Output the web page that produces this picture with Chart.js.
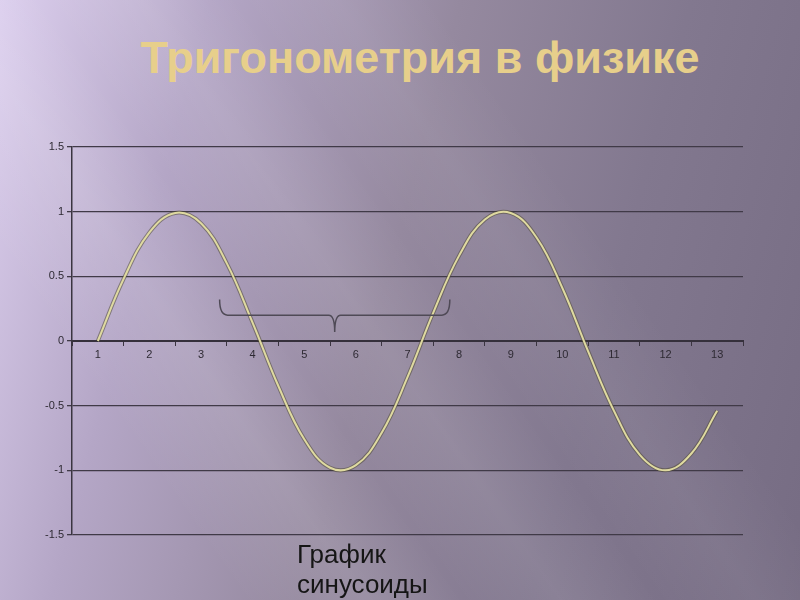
<!DOCTYPE html>
<html>
<head>
<meta charset="utf-8">
<script src="https://cdn.jsdelivr.net/npm/chart.js@4/dist/chart.umd.min.js"></script>
<style>
  html, body { margin: 0; padding: 0; }
  body {
    width: 800px; height: 600px; position: relative; overflow: hidden;
    background:
      linear-gradient(55deg, rgba(255,255,255,0) 20%, rgba(255,255,255,0.10) 30%, rgba(255,255,255,0) 38%, rgba(255,255,255,0.08) 46%, rgba(255,255,255,0) 54%, rgba(255,255,255,0.05) 62%, rgba(255,255,255,0) 70%),
      linear-gradient(105deg, #dccfee 0%, #b4a6c6 22%, #95899f 48%, #82788f 72%, #766c83 100%);
    font-family: "Liberation Sans", Arial, sans-serif;
  }
  #title {
    position: absolute; left: 0; width: 840px; top: 32px; text-align: center;
    font-size: 45px; font-weight: bold; color: #e7cf8b;
  }
  #caption {
    position: absolute; left: 297px; top: 539px; font-size: 26px; line-height: 30px; color: #151515;
  }
  #wrap { position: absolute; left: 0; top: 0; width: 800px; height: 600px; }
</style>
</head>
<body>
<div id="title">Тригонометрия в физике</div>
<div id="wrap"><canvas id="chart"></canvas></div>
<div id="caption">График<br>синусоиды</div>
<script>
// значения
const xValues = [1, 1.5, 2, 2.5, 3, 3.5, 4, 4.5, 5, 5.5, 6, 6.5, 7, 7.5, 8, 8.5, 9, 9.5, 10, 10.5, 11, 11.5, 12, 12.5, 13];
const yValues = [0, 0.48, 0.84, 0.99, 0.91, 0.6, 0.14, -0.35, -0.76, -0.98, -0.96, -0.71, -0.28, 0.22, 0.66, 0.94, 0.99, 0.8, 0.41, -0.08, -0.54, -0.88, -1, -0.87, -0.54];
const yTicks = [-1.5, -1, -0.5, 0, 0.5, 1, 1.5];
const categories = ['1', '2', '3', '4', '5', '6', '7', '8', '9', '10', '11', '12', '13'];

const points = xValues.map((x, i) => ({ x: x, y: yValues[i] }));

// фигурная скобка над осью
const bracePlugin = {
  id: 'brace',
  afterDatasetsDraw(chart) {
    const xs = chart.scales.x, ys = chart.scales.y, ctx = chart.ctx;
    const x1 = xs.getPixelForValue(3.36), x2 = xs.getPixelForValue(7.82), xm = xs.getPixelForValue(5.59);
    const yTop = ys.getPixelForValue(0.32), yMid = ys.getPixelForValue(0.2), yTip = ys.getPixelForValue(0.07);
    ctx.save();
    ctx.strokeStyle = '#4f4a56';
    ctx.lineWidth = 1.5;
    ctx.beginPath();
    ctx.moveTo(x1, yTop);
    ctx.quadraticCurveTo(x1, yMid, x1 + 8, yMid);
    ctx.lineTo(xm - 6, yMid);
    ctx.quadraticCurveTo(xm, yMid, xm, yTip);
    ctx.quadraticCurveTo(xm, yMid, xm + 6, yMid);
    ctx.lineTo(x2 - 8, yMid);
    ctx.quadraticCurveTo(x2, yMid, x2, yTop);
    ctx.stroke();
    ctx.restore();
  }
};

new Chart(document.getElementById('chart'), {
  type: 'line',
  data: {
    datasets: [
      {
        data: points,
        borderColor: '#dfdaa0',
        borderWidth: 2,
        pointRadius: 0,
        tension: 0.4,
        fill: false
      },
      {
        data: points,
        borderColor: 'rgba(80,75,55,0.55)',
        borderWidth: 4,
        pointRadius: 0,
        tension: 0.4,
        fill: false
      }
    ]
  },
  options: {
    responsive: true,
    maintainAspectRatio: false,
    animation: false,
    layout: { padding: { left: 0, right: 57, top: 147, bottom: 65 } },
    plugins: { legend: { display: false }, tooltip: { enabled: false }, title: { display: false } },
    scales: {
      x: {
        type: 'linear',
        position: { y: 0 },
        min: 0.5,
        max: 13.5,
        ticks: {
          stepSize: 0.5,
          autoSkip: false,
          maxRotation: 0,
          padding: 3,
          color: '#2e2a33',
          font: { family: 'Liberation Sans', size: 11 },
          callback: (v) => Number.isInteger(v) ? categories[v - 1] : ''
        },
        grid: {
          drawOnChartArea: false,
          drawTicks: true,
          tickLength: 4,
          tickColor: (c) => (c.tick && Number.isInteger(c.tick.value)) ? 'rgba(0,0,0,0)' : '#3a3440'
        },
        border: { display: true, color: '#35303b', width: 2 }
      },
      y: {
        min: -1.5,
        max: 1.5,
        afterFit: (s) => { s.width = 72; },
        afterBuildTicks: (s) => { s.ticks = yTicks.map(v => ({ value: v })); },
        ticks: {
          padding: 3,
          color: '#2e2a33',
          font: { family: 'Liberation Sans', size: 11 },
          callback: (v) => String(v)
        },
        grid: { color: '#403a47', lineWidth: 1.3, tickLength: 5, tickColor: '#403a47' },
        border: { display: true, color: '#3a3540', width: 1.5 }
      }
    }
  },
  plugins: [bracePlugin]
});
</script>
</body>
</html>
